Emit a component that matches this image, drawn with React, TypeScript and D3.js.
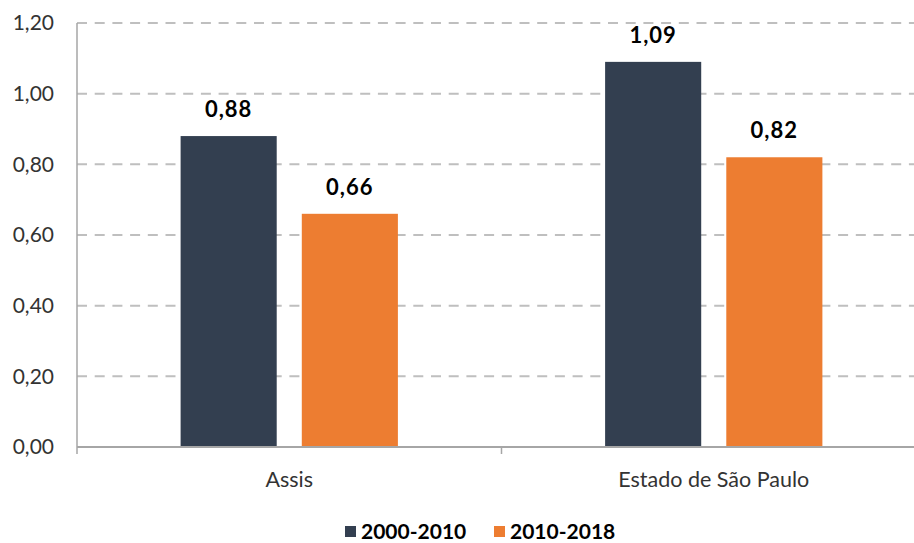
import React from "react";
import * as d3 from "d3";

const categories = ["Assis", "Estado de São Paulo"];
const seriesNames = ["2000-2010", "2010-2018"];
const series2000_2010 = [0.88, 1.09];
const series2010_2018 = [0.66, 0.82];
const yTicks = [0, 0.2, 0.4, 0.6, 0.8, 1.0, 1.2];
const colors = ["#333F50", "#ED7D31"];

const W = 914;
const H = 543;
const FONT = "Lato, 'Open Sans', sans-serif";

export default function App() {
  const left = 77;
  const right = 926;
  const top = 23;
  const bottom = 447;
  const x = d3.scaleBand<string>().domain(categories).range([left, right]).paddingInner(0).paddingOuter(0);
  const y = d3.scaleLinear().domain([0, 1.2]).range([bottom, top]);
  const sub = d3.scaleBand<string>().domain(seriesNames).range([0, x.bandwidth()]).paddingInner(0.207).paddingOuter(0.855);
  const fmt = (v: number) => d3.format(".2f")(v).replace(".", ",");
  const data = [series2000_2010, series2010_2018];

  return (
    <svg width={W} height={H} style={{ position: "absolute", left: 0, top: 0, background: "#fff" }}>
      {yTicks.map((t) => (
        <g key={t}>
          {t > 0 && (
            <line x1={left} x2={W} y1={y(t)} y2={y(t)} stroke="#BFBFBF" strokeWidth={2} strokeDasharray="10,7.7" />
          )}
          <text x={54} y={y(t)} dy="0.35em" textAnchor="end" fontFamily={FONT} fontSize={21} fill="#333">
            {fmt(t)}
          </text>
        </g>
      ))}
      {categories.map((c, ci) =>
        seriesNames.map((s, si) => {
          const v = data[si][ci];
          const bx = (x(c) as number) + (sub(s) as number);
          return (
            <g key={c + s}>
              <rect x={bx} y={y(v)} width={sub.bandwidth()} height={y(0) - y(v)} fill={colors[si]} />
              <text
                x={bx + sub.bandwidth() / 2}
                y={y(v) - 19}
                textAnchor="middle"
                fontFamily={FONT}
                fontWeight="bold"
                fontSize={22}
                letterSpacing={1}
                fill="#000"
              >
                {fmt(v)}
              </text>
            </g>
          );
        })
      )}
      <line x1={left} x2={left} y1={top} y2={bottom} stroke="#A6A6A6" strokeWidth={1.5} />
      <line x1={left} x2={W} y1={bottom} y2={bottom} stroke="#A6A6A6" strokeWidth={2} />
      {[left, left + x.bandwidth()].map((tx) => (
        <line key={tx} x1={tx} x2={tx} y1={bottom} y2={bottom + 7} stroke="#A6A6A6" strokeWidth={1.5} />
      ))}
      {categories.map((c) => (
        <text
          key={c}
          x={(x(c) as number) + x.bandwidth() / 2}
          y={479}
          dy="0.35em"
          textAnchor="middle"
          fontFamily={FONT}
          fontSize={21.5}
          fill="#333"
        >
          {c}
        </text>
      ))}
      <g>
        {seriesNames.map((s, si) => {
          const lx = [345, 494][si];
          return (
            <g key={s}>
              <rect x={lx} y={526} width={11} height={11} fill={colors[si]} />
              <text x={lx + 16} y={531.5} dy="0.35em" fontFamily={FONT} fontWeight="bold" fontSize={21} fill="#000">
                {s}
              </text>
            </g>
          );
        })}
      </g>
    </svg>
  );
}
